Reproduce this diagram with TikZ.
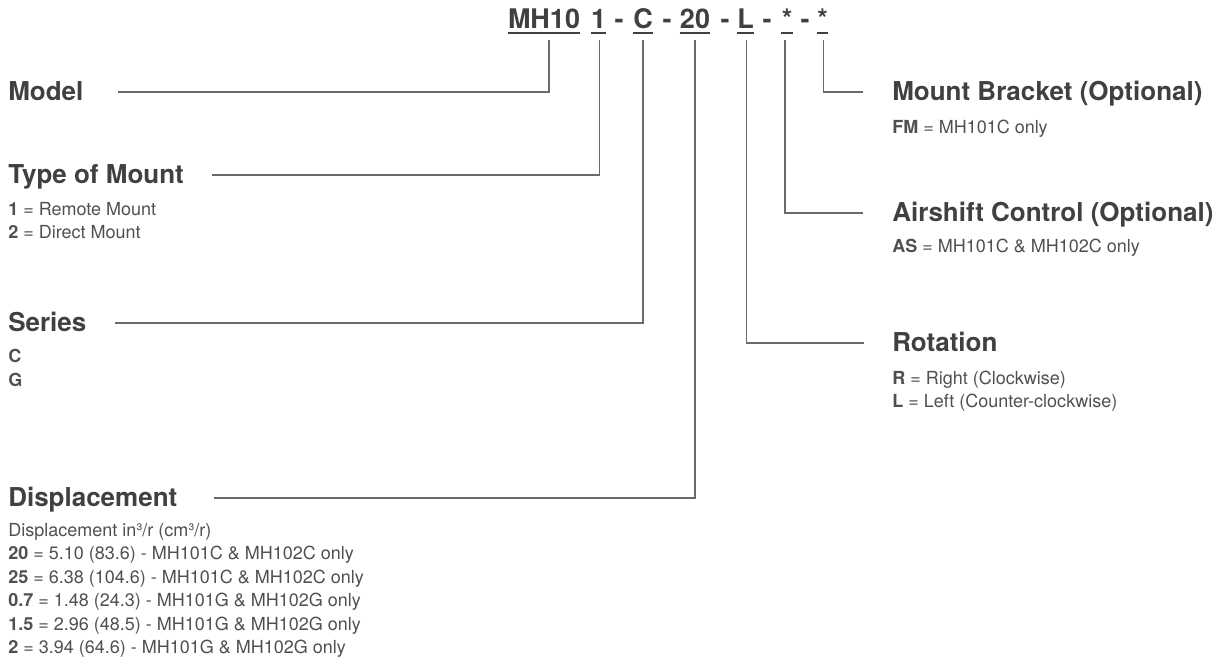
\documentclass[tikz,border=0pt]{standalone}
\usepackage{fontspec}
\setmainfont{TeX Gyre Heros}
\definecolor{hdrcol}{HTML}{404040}
\definecolor{subcol}{HTML}{505050}
\definecolor{linecol}{HTML}{6A6A6A}
\begin{document}
\begin{tikzpicture}[x=0.75pt,y=-0.75pt,
  hdr/.style={anchor=base west, inner sep=0pt, font=\fontsize{19.5}{22}\selectfont\bfseries, text=hdrcol},
  sub/.style={anchor=base west, inner sep=0pt, font=\fontsize{13.5}{15}\selectfont, text=subcol},
  tok/.style={anchor=base, inner sep=0pt, font=\fontsize{20.25}{22}\selectfont\bfseries, text=hdrcol},
  ul/.style={draw=hdrcol, line width=1.5pt},
  conn/.style={draw=linecol, line width=0.8pt}]
\useasboundingbox (0,0) rectangle (1212,665);

% title tokens
\node[tok] (tMH) at (544,28) {MH10};
\node[tok] (t1) at (598.5,28) {1};
\node[tok] (d1) at (619,28) {-};
\node[tok] (tC) at (643,28) {C};
\node[tok] (d2) at (667,28) {-};
\node[tok] (t20) at (695,28) {20};
\node[tok] (d3) at (725,28) {-};
\node[tok] (tL) at (745.5,28) {L};
\node[tok] (d4) at (767,28) {-};
\node[tok] (tS1) at (787,28) {*};
\node[tok] (d5) at (805,28) {-};
\node[tok] (tS2) at (822.5,28) {*};
\foreach \t in {tMH,t1,tC,t20,tL,tS1,tS2} \draw[ul] ([yshift=-3.4pt]\t.base west) -- ([yshift=-3.4pt]\t.base east);

% left headers
\node[hdr] (hModel) at (8,100) {Model};
\node[hdr] (hType) at (8,183) {Type of Mount};
\node[sub] (s1) at (8,215) {\textbf{1} = Remote Mount};
\node[sub] (s2) at (8,238.5) {\textbf{2} = Direct Mount};
\node[hdr] (hSeries) at (8,331) {Series};
\node[sub] (sC) at (8,362) {\textbf{C}};
\node[sub] (sG) at (8,386) {\textbf{G}};
\node[hdr] (hDisp) at (8,506) {Displacement};
\node[sub] (dA) at (8,536) {Displacement in³/r (cm³/r)};
\node[sub] (dB) at (8,559.5) {\textbf{20} = 5.10 (83.6) - MH101C \& MH102C only};
\node[sub] (dC) at (8,583) {\textbf{25} = 6.38 (104.6) - MH101C \& MH102C only};
\node[sub] (dD) at (8,606.5) {\textbf{0.7} = 1.48 (24.3) - MH101G \& MH102G only};
\node[sub] (dE) at (8,630) {\textbf{1.5} = 2.96 (48.5) - MH101G \& MH102G only};
\node[sub] (dF) at (8,653.5) {\textbf{2} = 3.94 (64.6) - MH101G \& MH102G only};

% right headers
\node[hdr] (hMount) at (892,100) {Mount Bracket (Optional)};
\node[sub] (sFM) at (892,133) {\textbf{FM} = MH101C only};
\node[hdr] (hAir) at (892,221) {Airshift Control (Optional)};
\node[sub] (sAS) at (892,252) {\textbf{AS} = MH101C \& MH102C only};
\node[hdr] (hRot) at (892,351) {Rotation};
\node[sub] (sR) at (892,384) {\textbf{R} = Right (Clockwise)};
\node[sub] (sL) at (892,407.5) {\textbf{L} = Left (Counter-clockwise)};

% connectors
\draw[conn] ([xshift=3.75pt,yshift=-9pt]tMH.base) |- ([xshift=26pt,yshift=6pt]hModel.base east);
\draw[conn] ([xshift=1pt,yshift=-9pt]t1.base) |- ([xshift=21pt,yshift=6pt]hType.base east);
\draw[conn] ([yshift=-9pt]tC.base) |- ([xshift=21pt,yshift=6pt]hSeries.base east);
\draw[conn] ([yshift=-9pt]t20.base) |- ([xshift=27pt,yshift=6pt]hDisp.base east);
\draw[conn] ([xshift=1pt,yshift=-9pt]tL.base) |- ([xshift=-21pt,yshift=6pt]hRot.base west);
\draw[conn] ([xshift=-1.5pt,yshift=-9pt]tS1.base) |- ([xshift=-22pt,yshift=6pt]hAir.base west);
\draw[conn] ([xshift=0.4pt,yshift=-9pt]tS2.base) |- ([xshift=-22pt,yshift=6pt]hMount.base west);
\end{tikzpicture}
\end{document}
